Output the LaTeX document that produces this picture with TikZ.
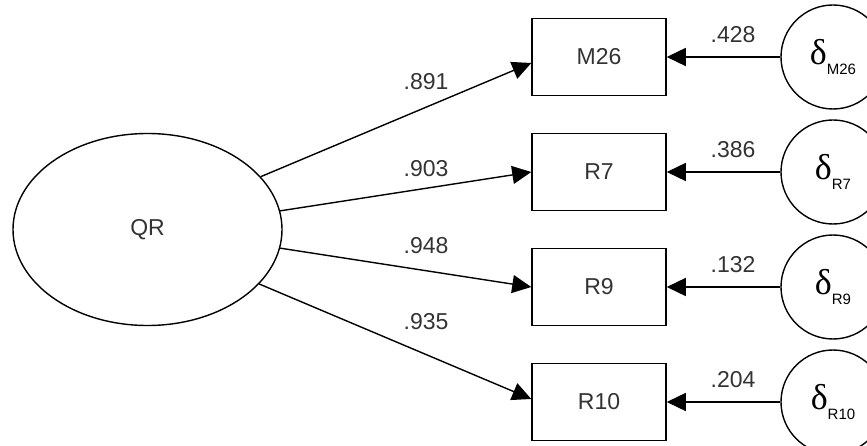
\documentclass[tikz,border=0pt]{standalone}
\usepackage{fontspec}
\setmainfont{Liberation Sans}
\newfontfamily\greekfont{Liberation Serif}
\usetikzlibrary{shapes.geometric,arrows.meta}

\newcommand{\errlabel}[1]{{\greekfont\fontsize{36}{36}\selectfont δ}\raisebox{-10pt}{\fontsize{15}{15}\selectfont #1}}

\tikzset{
	latent/.style={draw, ellipse, line width=1.4pt, minimum width=269pt, minimum height=192pt},
	observed/.style={draw, rectangle, line width=1.5pt, minimum width=134pt, minimum height=77pt},
	errterm/.style={draw, circle, line width=1.4pt, minimum size=104pt, inner sep=0pt, text=black},
	coef/.style={inner sep=0pt},
	arrowline/.style={line width=1.4pt, -{Triangle[length=19pt,width=18pt]}}
}

\begin{document}
\begin{tikzpicture}[x=1pt, y=-1pt, font=\fontsize{23}{26}\selectfont, text=black!80]
	\useasboundingbox (0,0) rectangle (867,446);
	
	% latent factor
	\node[latent] (QR) at (147.5,229.5) {QR};
	
	% indicators
	\node[observed] (M26) at (599,57) {M26};
	\node[observed] (R7) at (599,172) {R7};
	\node[observed] (R9) at (599,287) {R9};
	\node[observed] (R10) at (599,402) {R10};
	
	% error terms
	\node[errterm] (dM26) at (833,57) {\errlabel{M26}};
	\node[errterm] (dR7) at (833,172) {\errlabel{R7}};
	\node[errterm] (dR9) at (833,287) {\errlabel{R9}};
	\node[errterm] (dR10) at (833,402) {\errlabel{R10}};
	
	% loadings
	\draw[arrowline] (QR.25) -- ([yshift=-6pt]M26.west);
	\draw[arrowline] (QR.8) -- (R7.west);
	\draw[arrowline] (QR.-8) -- (R9.west);
	\draw[arrowline] (QR.-26) -- ([yshift=3pt]R10.west);
	\node[coef] (lM26) at (426,82) {.891};
	\node[coef] (lR7) at (426,169) {.903};
	\node[coef] (lR9) at (426,246) {.948};
	\node[coef] (lR10) at (426,322) {.935};
	
	% error paths
	\draw[arrowline] (dM26) -- (M26);
	\draw[arrowline] (dR7) -- (R7);
	\draw[arrowline] (dR9) -- (R9);
	\draw[arrowline] (dR10) -- (R10);
	\node[coef] (eM26) at (733,35) {.428};
	\node[coef] (eR7) at (733,150) {.386};
	\node[coef] (eR9) at (733,265) {.132};
	\node[coef] (eR10) at (733,380) {.204};
	
\end{tikzpicture}
\end{document}
